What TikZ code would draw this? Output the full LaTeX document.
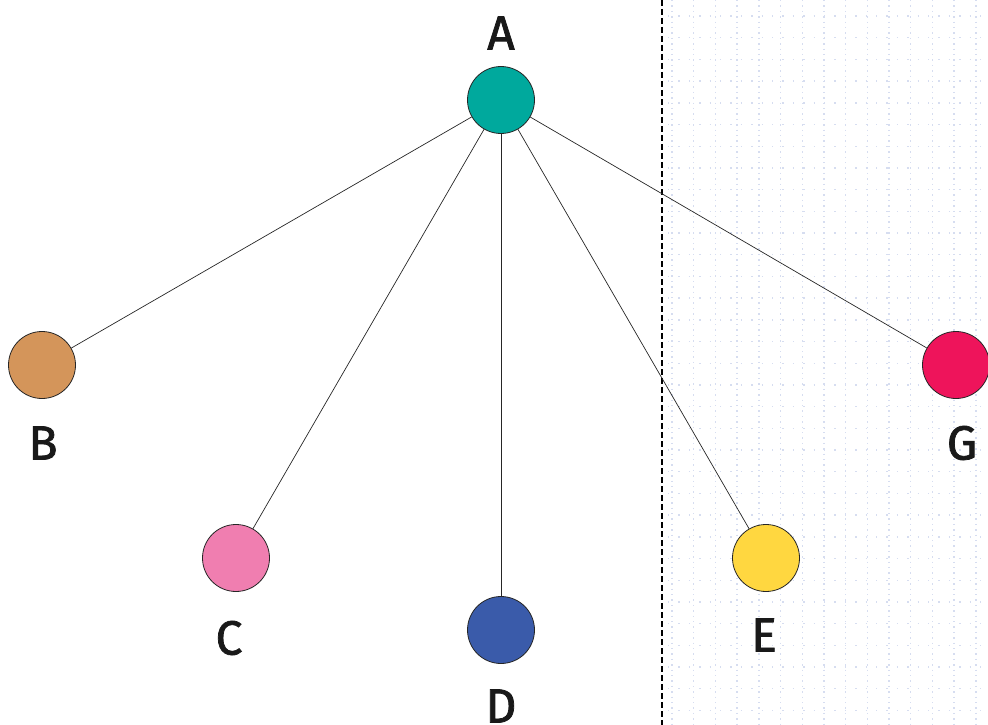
\documentclass[tikz,border=0pt]{standalone}
\usepackage{fontspec}
\setmainfont{Fira Sans}
\newfontfamily\lblfont[FakeBold=1.6]{Fira Sans}
\begin{document}
\begin{tikzpicture}[x=1pt,y=-1pt,
  vert/.style={circle,draw=black!85,line width=0.8pt,minimum size=67pt,inner sep=0pt},
  lbl/.style={font=\lblfont\fontsize{48}{48}\selectfont,text=black!90,inner sep=0pt},
  edge/.style={draw=black!85,line width=0.7pt},
  gridln/.style={draw={rgb,255:red,214;green,221;blue,240},line width=1.4pt,dash pattern=on 1.4pt off 4pt}]
\useasboundingbox (0,0) rectangle (988,725);
% background pattern of right region
\foreach \i in {0,...,14} {
  \draw[gridln] (672+21.7*\i,0) -- (672+21.7*\i,725);
}
\foreach \j in {0,...,33} {
  \draw[gridln,dash pattern=on 1.4pt off 9pt] (668,16+21.7*\j) -- (988,16+21.7*\j);
}
\coordinate (top) at (662,0);
\coordinate (bot) at (662,725);
\draw[black,line width=1.5pt,dash pattern=on 6pt off 3pt] (top) -- (bot);
% nodes
\node[vert,fill={rgb,255:red,0;green,169;blue,157}] (A) at (501,100) {};
\node[vert,fill={rgb,255:red,212;green,149;blue,90}] (B) at (42,365) {};
\node[vert,fill={rgb,255:red,240;green,126;blue,176}] (C) at (236,558) {};
\node[vert,fill={rgb,255:red,58;green,91;blue,170}] (D) at (501,630) {};
\node[vert,fill={rgb,255:red,255;green,215;blue,64}] (E) at (766,558) {};
\node[vert,fill={rgb,255:red,238;green,20;blue,91}] (G) at (956,365) {};
% edges
\foreach \t in {B,C,D,E,G} { \draw[edge] (A) -- (\t); }
% labels
\node[lbl] (lA) at (501,33) {A};
\node[lbl] (lB) at (43,443) {B};
\node[lbl] (lC) at (229,638) {C};
\node[lbl] (lD) at (501,706) {D};
\node[lbl] (lE) at (764,635) {E};
\node[lbl] (lG) at (962,443) {G};
\end{tikzpicture}
\end{document}
